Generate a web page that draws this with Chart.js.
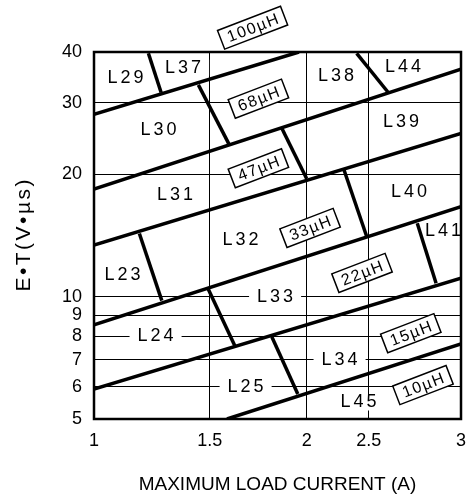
<!DOCTYPE html>
<html>
<head>
<meta charset="utf-8">
<script src="https://cdn.jsdelivr.net/npm/chart.js@4.4.1/dist/chart.umd.min.js"></script>
<style>
  html, body { margin: 0; padding: 0; background: #fff; }
  #wrap { width: 466px; height: 497px; }
</style>
</head>
<body>
<div id="wrap"><canvas id="chart"></canvas></div>
<script>
const xTicks = [1, 1.5, 2, 2.5, 3];
const yTicks = [5, 6, 7, 8, 9, 10, 20, 30, 40];
// the printed current axis is not evenly spaced, this is where each tick sits (0..1)
const xTickPos = [0, 0.3153, 0.5796, 0.7485, 1];

// boundaries between inductance bands, [current (A), E*T (V*us)]
const edge100 = [[1, 28.1], [1.96, 40]];
const edge68 = [[1, 18.4], [3, 36.3]];
const edge47 = [[1, 13.4], [3, 25.2]];
const edge33 = [[1, 8.52], [3, 16.65]];
const edge22 = [[1, 5.92], [3, 11.1]];
const edge15 = [[1.589, 5], [3, 7.65]];

// short dividers between part numbers inside a band
const dividers = [
  [[1.235, 39.7], [1.29, 31.8]],
  [[1.451, 33.2], [1.60, 23.7]],
  [[2.403, 39.7], [2.606, 31.8]],
  [[1.871, 26.0], [2.0, 19.5]],
  [[1.196, 14.3], [1.293, 9.78]],
  [[2.301, 20.5], [2.486, 14.0]],
  [[1.494, 10.43], [1.63, 7.56]],
  [[2.763, 15.16], [2.865, 10.79]],
  [[1.82, 7.97], [1.954, 5.76]]
];

const bandText = ["100µH", "68µH", "47µH", "33µH", "22µH", "15µH", "10µH"];
const bandX = [1.721, 1.751, 1.751, 2.027, 2.446, 2.728, 2.794];
const bandY = [45.9, 30.7, 20.7, 14.76, 11.44, 8.13, 6.06];

const partText = ["L29", "L37", "L30", "L38", "L44", "L39", "L31", "L40",
  "L32", "L23", "L41", "L33", "L24", "L34", "L25", "L45"];
const partX = [1.136, 1.385, 1.279, 2.236, 2.686, 2.675, 1.35, 2.718,
  1.659, 1.123, 2.902, 1.837, 1.266, 2.265, 1.685, 2.418];
const partY = [34.6, 36.6, 25.7, 34.9, 36.7, 26.9, 17.8, 18.1,
  13.8, 11.3, 14.5, 10, 8, 7, 6, 5.49];

const FONT = '"Liberation Sans", Arial, sans-serif';

// linear scale with a piecewise mapping through the tick positions
class BrokenScale extends Chart.LinearScale {
  buildTicks() {
    return xTicks.map(v => ({ value: v }));
  }
  getPixelForValue(value) {
    let i = 1;
    while (i < xTicks.length - 1 && value > xTicks[i]) i++;
    const t = (value - xTicks[i - 1]) / (xTicks[i] - xTicks[i - 1]);
    return this.getPixelForDecimal(xTickPos[i - 1] + t * (xTickPos[i] - xTickPos[i - 1]));
  }
  getValueForPixel(pixel) {
    const dec = this.getDecimalForPixel(pixel);
    let i = 1;
    while (i < xTickPos.length - 1 && dec > xTickPos[i]) i++;
    const t = (dec - xTickPos[i - 1]) / (xTickPos[i] - xTickPos[i - 1]);
    return xTicks[i - 1] + t * (xTicks[i] - xTicks[i - 1]);
  }
}
BrokenScale.id = "broken";
BrokenScale.defaults = {};
Chart.register(BrokenScale);

const decor = {
  id: "decor",
  beforeDatasetsDraw(chart) {
    const { ctx, scales: { x, y } } = chart;
    ctx.save();
    ctx.textBaseline = "middle";
    ctx.textAlign = "left";

    // part numbers, white behind them so grid lines break
    ctx.font = "18px " + FONT;
    ctx.letterSpacing = "3px";
    partText.forEach((t, i) => {
      const px = x.getPixelForValue(partX[i]);
      const py = y.getPixelForValue(partY[i]);
      const w = ctx.measureText(t).width - 3;
      ctx.fillStyle = "#fff";
      ctx.fillRect(px - w / 2 - 8, py - 8, w + 16, 16);
      ctx.fillStyle = "#000";
      ctx.fillText(t, px - w / 2, py);
    });

    // tilted inductance boxes
    ctx.font = "16px " + FONT;
    ctx.letterSpacing = "1.5px";
    bandText.forEach((t, i) => {
      const px = x.getPixelForValue(bandX[i]);
      const py = y.getPixelForValue(bandY[i]);
      const w = ctx.measureText(t).width - 1.5;
      const bw = w + 14, bh = 20;
      ctx.save();
      ctx.translate(px, py);
      ctx.rotate(-21 * Math.PI / 180);
      ctx.fillStyle = "#fff";
      ctx.fillRect(-bw / 2, -bh / 2, bw, bh);
      ctx.lineWidth = 1.5;
      ctx.strokeStyle = "#000";
      ctx.strokeRect(-bw / 2, -bh / 2, bw, bh);
      ctx.fillStyle = "#000";
      ctx.fillText(t, -w / 2, 1);
      ctx.restore();
    });
    ctx.restore();
  },
  afterDraw(chart) {
    const { ctx, chartArea: a } = chart;
    ctx.save();
    ctx.lineWidth = 2.5;
    ctx.strokeStyle = "#000";
    ctx.strokeRect(a.left, a.top, a.right - a.left, a.bottom - a.top);

    // y axis title, drawn here for the letter spacing
    const t = "E•T(V•µs)";
    ctx.font = "21px " + FONT;
    ctx.letterSpacing = "2.5px";
    ctx.textBaseline = "middle";
    ctx.textAlign = "left";
    const w = ctx.measureText(t).width - 2.5;
    ctx.translate(24.5, (a.top + a.bottom) / 2);
    ctx.rotate(-Math.PI / 2);
    ctx.fillStyle = "#000";
    ctx.fillText(t, -w / 2, 0);
    ctx.restore();
  }
};

const lines = [edge100, edge68, edge47, edge33, edge22, edge15].concat(dividers);

new Chart(document.getElementById("chart"), {
  type: "line",
  data: {
    datasets: lines.map(pts => ({
      data: pts.map(([x, y]) => ({ x, y })),
      borderColor: "#000",
      borderWidth: 3.5,
      pointRadius: 0,
      fill: false,
      tension: 0
    }))
  },
  options: {
    responsive: true,
    maintainAspectRatio: false,
    animation: false,
    events: [],
    layout: { padding: { top: 52, right: 5, left: 0, bottom: 0 } },
    plugins: { legend: { display: false }, tooltip: { enabled: false } },
    scales: {
      x: {
        type: "broken",
        min: 1,
        max: 3,
        grid: { color: "#000", lineWidth: 1, drawTicks: false },
        border: { display: false },
        ticks: {
          color: "#000",
          font: { family: FONT, size: 18 },
          padding: 11,
          autoSkip: false,
          maxRotation: 0,
          callback: v => String(v)
        },
        title: {
          display: true,
          text: "MAXIMUM LOAD CURRENT (A)",
          color: "#000",
          font: { family: FONT, size: 19 },
          padding: { top: 0, bottom: 1 }
        },
        afterFit: s => { s.height = 78; s.paddingLeft = 0; s.paddingRight = 0; }
      },
      y: {
        type: "logarithmic",
        min: 5,
        max: 40,
        grid: { color: "#000", lineWidth: 1, drawTicks: false },
        border: { display: false },
        afterBuildTicks: s => { s.ticks = yTicks.map(v => ({ value: v })); },
        ticks: {
          color: "#000",
          font: { family: FONT, size: 18 },
          padding: 12,
          autoSkip: false,
          callback: v => String(v)
        },
        afterFit: s => { s.width = 94; s.paddingTop = 0; s.paddingBottom = 0; }
      }
    }
  },
  plugins: [decor]
});
</script>
</body>
</html>
